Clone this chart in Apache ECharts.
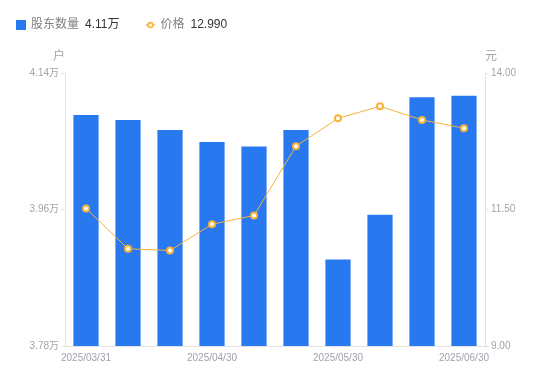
<!DOCTYPE html>
<html><head><meta charset="utf-8">
<script src="https://cdn.jsdelivr.net/npm/echarts@6/dist/echarts.min.js"></script>
<style>html,body{margin:0;padding:0;background:#fff}#c{width:550px;height:381px}</style>
</head><body><div id="c"></div>
<script>
var categories = ['2025/03/31','2025/04/10','2025/04/18','2025/04/30','2025/05/09','2025/05/20','2025/05/30','2025/06/10','2025/06/20','2025/06/30'];
var holders = [40846, 40780, 40650, 40490, 40430, 40650, 38940, 39530, 41080, 41100];
var prices = [11.52, 10.78, 10.75, 11.23, 11.39, 12.66, 13.17, 13.39, 13.14, 12.99];
var leftTicks = [37800, 39600, 41400];
var rightTicks = [9, 11.5, 14];

var chart = echarts.init(document.getElementById('c'), null, {renderer:'canvas'});
var fmtWan = function(v){ return (v/10000).toFixed(2) + '万'; };
var lastH = holders[holders.length-1], lastP = prices[prices.length-1];
var lineIcon = 'path://M0,4.5 H2.4 V5.5 H0 Z M7.6,4.5 H10 V5.5 H7.6 Z M5,1.8 A3.2,3.2 0 1 1 5,8.2 A3.2,3.2 0 1 1 5,1.8 Z M5,3.4 A1.6,1.6 0 1 0 5,6.6 A1.6,1.6 0 1 0 5,3.4 Z';
chart.setOption({
  animation:false,
  textStyle:{fontFamily:'Liberation Sans, Arial, "Noto Sans CJK SC", sans-serif'},
  legend:{
    left:11, top:14, itemWidth:10, itemHeight:10, itemGap:26,
    data:[{name:'股东数量', icon:'rect'},{name:'价格', icon:lineIcon}],
    formatter:function(n){
      var v = n === '股东数量' ? fmtWan(lastH) : lastP.toFixed(3);
      return '{n|' + n + '}{v|' + v + '}';
    },
    textStyle:{rich:{
      n:{fontSize:12,color:'#808080'},
      v:{fontSize:12,color:'#333',padding:[0,0,0,6]}
    }}
  },
  grid:{left:65,right:65,top:73,bottom:35},
  xAxis:{
    type:'category', data:categories,
    axisLine:{lineStyle:{color:'#e3e3e3'}},
    axisTick:{show:false},
    axisLabel:{interval:2, color:'#a0a3ab', fontSize:10, margin:7}
  },
  yAxis:[{
    type:'value', min:37800, max:41400,
    name:'户', nameGap:10, nameTextStyle:{color:'#a0a3ab',fontSize:12,align:'right'},
    axisLine:{show:true,lineStyle:{color:'#e3e3e3'}},
    axisTick:{show:true,length:4,lineStyle:{color:'#e3e3e3'},customValues:leftTicks},
    axisLabel:{color:'#a0a3ab',fontSize:10,margin:6,customValues:leftTicks,formatter:fmtWan},
    splitLine:{show:false}
  },{
    type:'value', min:9, max:14,
    name:'元', nameGap:10, nameTextStyle:{color:'#a0a3ab',fontSize:12,align:'left'},
    axisLine:{show:true,lineStyle:{color:'#e3e3e3'}},
    axisTick:{show:true,length:4,lineStyle:{color:'#e3e3e3'},customValues:rightTicks},
    axisLabel:{color:'#a0a3ab',fontSize:10,margin:6,customValues:rightTicks,formatter:function(v){return v.toFixed(2);}},
    splitLine:{show:false}
  }],
  series:[{
    name:'股东数量', type:'bar', data:holders, barWidth:'60%', yAxisIndex:0,
    itemStyle:{color:'#2878F0'}
  },{
    name:'价格', type:'line', data:prices, yAxisIndex:1,
    symbol:'emptyCircle', symbolSize:6,
    lineStyle:{color:'#F8B23C',width:1},
    itemStyle:{color:'#F8B23C',borderWidth:2}
  }]
});
</script></body></html>
